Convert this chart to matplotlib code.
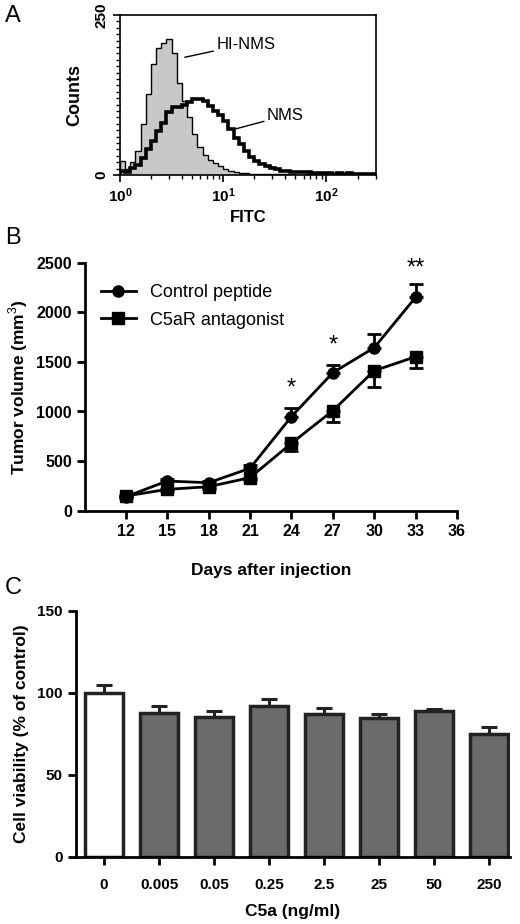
import numpy as np
import matplotlib
matplotlib.use('Agg')
import matplotlib.pyplot as plt
from matplotlib.lines import Line2D
from matplotlib.ticker import MultipleLocator, LogLocator, NullFormatter

plt.rcParams['font.family'] = ['Liberation Sans', 'DejaVu Sans']
plt.rcParams['mathtext.fontset'] = 'custom'
plt.rcParams['mathtext.rm'] = 'Liberation Sans'
plt.rcParams['mathtext.bf'] = 'Liberation Sans:bold'

# --- panel A: flow cytometry histograms (50 log bins from 10^0 to 10^2.5)
log_edges = np.linspace(0, 2.5, 51)
hi_nms = [22, 10, 20, 38, 80, 127, 174, 198, 206, 212,
          190, 143, 116, 90, 64, 43, 31, 23, 19, 14,
          10, 6, 4, 3, 3, 2, 2, 1, 1, 1,
          1, 1, 1, 1, 0, 0, 1, 0, 0, 0,
          0, 0, 0, 0, 0, 0, 0, 0, 0, 0]
nms = [6, 5, 11, 16, 27, 41, 53, 69, 82, 98,
       106, 107, 110, 114, 118, 118, 116, 108, 100, 93,
       85, 72, 58, 49, 38, 28, 22, 17, 14, 11,
       9, 7, 6, 5, 5, 4, 4, 3, 3, 3,
       3, 2, 3, 2, 3, 2, 2, 2, 2, 2]

# --- panel B: tumor growth
days = [12, 15, 18, 21, 24, 27, 30, 33]
control = [141, 299, 282, 427, 948, 1391, 1643, 2151]
control_err = [15, 20, 20, 30, 90, 78, 134, 134]
antag = [148, 215, 242, 333, 679, 1008, 1411, 1552]
antag_err = [15, 20, 20, 25, 78, 110, 160, 117]
stars = {24: ('*', 1235), 27: ('*', 1665), 33: ('**', 2440)}

# --- panel C: cell viability
c5a_labels = ['0', '0.005', '0.05', '0.25', '2.5', '25', '50', '250']
viability = [100, 87.4, 85.2, 92.1, 87.2, 84.8, 88.6, 75.0]
viability_err = [4.5, 4.5, 3.5, 3.8, 3.2, 2.0, 1.6, 3.9]

W, H = 520, 924
fig = plt.figure(figsize=(W / 100, H / 100), dpi=100)


def ax_px(l, t, r, b):
    return fig.add_axes([l / W, 1 - b / H, (r - l) / W, (b - t) / H])


# ---------------- A
axA = ax_px(120, 15, 376, 175)
edges = 10 ** log_edges
axA.stairs(hi_nms, edges, fill=True, color='#c8c8c8')
axA.stairs(hi_nms, edges, color='black', lw=1.0)
axA.stairs(nms, edges, color='black', lw=2.6)
axA.set_xscale('log')
axA.set_xlim(1, 10 ** 2.48)
axA.set_ylim(0, 250)
axA.set_xticks([1, 10, 100])
axA.set_xticklabels([r'$\mathbf{10^{0}}$', r'$\mathbf{10^{1}}$', r'$\mathbf{10^{2}}$'], fontsize=11)
axA.xaxis.set_minor_locator(LogLocator(base=10, subs=np.arange(2, 10)))
axA.xaxis.set_minor_formatter(NullFormatter())
axA.set_yticks([0, 250])
axA.set_yticklabels(['0', '250'], rotation=90, va='center', fontsize=11, fontweight='bold')
axA.yaxis.set_minor_locator(MultipleLocator(10))
axA.tick_params(direction='out', width=1.2, length=5, top=False, right=False)
axA.tick_params(which='minor', direction='out', width=1, length=3, top=False, right=False)
for s in axA.spines.values():
    s.set_linewidth(1.2)
axA.set_xlabel('FITC', fontsize=12, fontweight='bold', labelpad=3)
axA.set_ylabel('Counts', fontsize=13, fontweight='bold', labelpad=8)
axA.annotate('HI-NMS', xy=(10 ** ((187 - 123) / 102), (174 - 57) * 250 / 159),
             xytext=(10 ** ((218 - 123) / 102), (174 - 44) * 250 / 159),
             fontsize=12, va='center', ha='left',
             arrowprops=dict(arrowstyle='-', lw=1, color='black', shrinkA=0, shrinkB=0))
axA.annotate('NMS', xy=(10 ** ((238 - 123) / 102), (174 - 128) * 250 / 159),
             xytext=(10 ** ((268 - 123) / 102), (174 - 115) * 250 / 159),
             fontsize=12, va='center', ha='left',
             arrowprops=dict(arrowstyle='-', lw=1, color='black', shrinkA=0, shrinkB=0))

# ---------------- B
axB = ax_px(85, 262.7, 457, 510.7)
z = np.zeros(len(days))
axB.errorbar(days, control, yerr=[z, control_err], fmt='-o', color='black', ms=8,
             lw=2, elinewidth=2, capsize=5, capthick=2)
axB.errorbar(days, antag, yerr=[antag_err, z], fmt='-s', color='black', ms=8,
             lw=2, elinewidth=2, capsize=5, capthick=2)
for d, (txt, y) in stars.items():
    axB.text(d, y, txt, ha='center', va='center', fontsize=17)
axB.set_xlim(9.05, 36)
axB.set_ylim(0, 2500)
axB.set_xticks(range(12, 37, 3))
axB.set_yticks(range(0, 2501, 500))
axB.spines['top'].set_visible(False)
axB.spines['right'].set_visible(False)
axB.spines['left'].set_linewidth(2)
axB.spines['bottom'].set_linewidth(2)
axB.tick_params(direction='out', width=2, length=6, labelsize=11.5)
for lab in axB.get_xticklabels() + axB.get_yticklabels():
    lab.set_fontweight('bold')
axB.set_xlabel('Days after injection', fontsize=12.5, fontweight='bold', labelpad=17)
axB.set_ylabel('Tumor volume (mm$^3$)', fontsize=12.5, fontweight='bold', labelpad=4)
handles = [Line2D([], [], color='black', lw=2, marker='o', ms=8),
           Line2D([], [], color='black', lw=2, marker='s', ms=8)]
axB.legend(handles, ['Control peptide', 'C5aR antagonist'], loc='upper left',
           bbox_to_anchor=(0.0, 0.98), frameon=False, fontsize=13,
           handlelength=1.9, handletextpad=0.8, labelspacing=0.6)

# ---------------- C
axC = ax_px(76, 610.7, 510, 856.7)
x = np.arange(len(c5a_labels))
colors = ['white'] + ['#6b6b6b'] * (len(c5a_labels) - 1)
axC.bar(x, viability, width=0.7, color=colors, edgecolor='#222222', lw=2.5, zorder=2)
axC.errorbar(x, viability, yerr=[np.zeros(len(x)), viability_err], fmt='none',
             ecolor='#222222', elinewidth=2.2, capsize=6, capthick=2.2, zorder=1)
axC.set_xlim(-0.51, 7.38)
axC.set_ylim(0, 150)
axC.set_xticks(x)
axC.set_xticklabels(c5a_labels)
axC.set_yticks([0, 50, 100, 150])
axC.spines['top'].set_visible(False)
axC.spines['right'].set_visible(False)
axC.spines['left'].set_linewidth(2)
axC.spines['bottom'].set_linewidth(2)
axC.tick_params(direction='out', width=2, length=6, labelsize=11)
axC.tick_params(axis='x', pad=9)
for lab in axC.get_xticklabels() + axC.get_yticklabels():
    lab.set_fontweight('bold')
axC.set_xlabel('C5a (ng/ml)', fontsize=12.5, fontweight='bold', labelpad=9)
axC.set_ylabel('Cell viability (% of control)', fontsize=12.5, fontweight='bold', labelpad=6)

# panel letters
fig.text(5 / W, 1 - 16 / H, 'A', fontsize=17, va='center', ha='left')
fig.text(5 / W, 1 - 238 / H, 'B', fontsize=17, va='center', ha='left')
fig.text(5 / W, 1 - 588 / H, 'C', fontsize=17, va='center', ha='left')

fig.savefig('out.png', dpi=100)
